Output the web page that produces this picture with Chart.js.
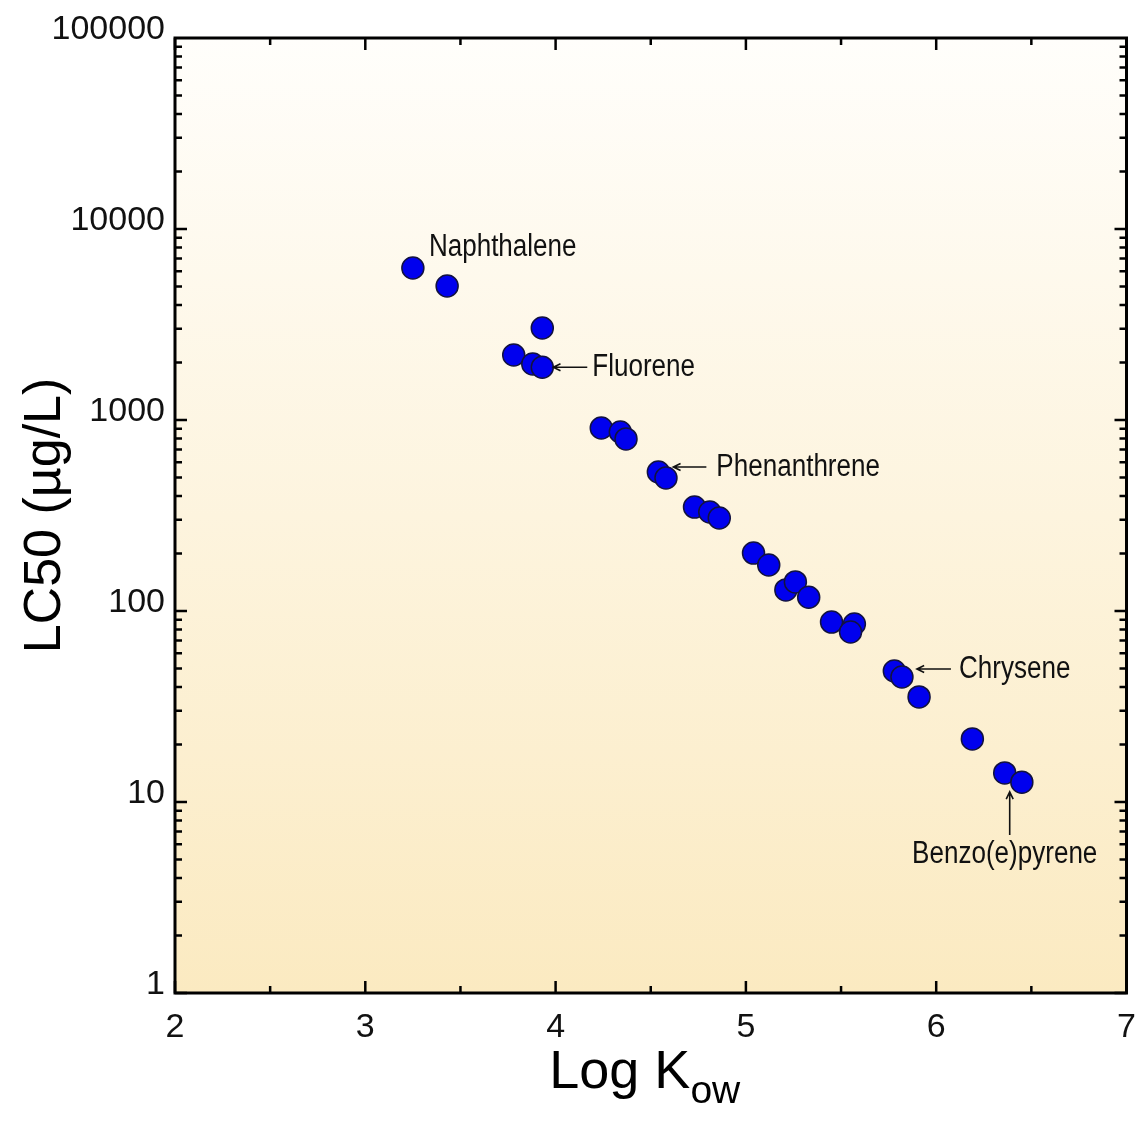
<!DOCTYPE html>
<html>
<head>
<meta charset="utf-8">
<script src="https://cdn.jsdelivr.net/npm/chart.js@4.4.0/dist/chart.umd.min.js"></script>
<style>
  body { margin: 0; background: #fff; }
  canvas { display: block; }
</style>
</head>
<body>
<canvas id="miGrafico" width="1139" height="1131"></canvas>
<script>
// datos
const logKow = [3.25, 3.43, 3.93, 3.78, 3.88, 3.93, 4.24, 4.34, 4.37, 4.54, 4.58, 4.73, 4.81, 4.86,
                5.04, 5.12, 5.21, 5.26, 5.33, 5.45, 5.57, 5.55, 5.78, 5.82, 5.91, 6.19, 6.36, 6.45];
const lc50 = [6250, 5030, 3030, 2190, 1965, 1890, 908, 865, 796, 534, 497, 350, 330, 307,
              201, 174, 129, 142, 118, 87.5, 85.5, 77.6, 48.5, 45.1, 35.5, 21.4, 14.2, 12.7];
const xTicks = [2, 3, 4, 5, 6, 7];
const yTicks = [1, 10, 100, 1000, 10000, 100000];
const etiquetas = ['Naphthalene', 'Fluorene', 'Phenanthrene', 'Chrysene', 'Benzo(e)pyrene'];

const FUENTE = "'Liberation Sans', Arial, Helvetica, sans-serif";
const GRAFICO = document.getElementById("miGrafico");

// fondo degradado
const fondo = {
  id: 'fondo',
  beforeDraw(chart) {
    const {ctx, chartArea: a} = chart;
    ctx.save();
    ctx.fillStyle = '#ffffff';
    ctx.fillRect(0, 0, chart.width, chart.height);
    const g = ctx.createLinearGradient(0, a.top, 0, a.bottom);
    g.addColorStop(0, '#fffefb');
    g.addColorStop(1, '#fbeac1');
    ctx.fillStyle = g;
    ctx.fillRect(a.left, a.top, a.right - a.left, a.bottom - a.top);
    ctx.restore();
  }
};

// marcas hacia dentro en los cuatro lados y marco
const marcas = {
  id: 'marcas',
  afterDatasetsDraw(chart) {
    const {ctx, chartArea: a, scales: {x, y}} = chart;
    ctx.save();
    ctx.strokeStyle = '#000';
    ctx.lineWidth = 2.5;
    ctx.beginPath();
    for (let v = x.min; v <= x.max + 1e-9; v += 0.5) {
      const px = x.getPixelForValue(v);
      const len = Number.isInteger(v) ? 12 : 7;
      ctx.moveTo(px, a.bottom); ctx.lineTo(px, a.bottom - len);
      ctx.moveTo(px, a.top); ctx.lineTo(px, a.top + len);
    }
    for (let d = y.min; d < y.max; d *= 10) {
      for (let m = 1; m <= 9; m++) {
        const py = y.getPixelForValue(d * m);
        const len = m === 1 ? 12 : 7;
        ctx.moveTo(a.left, py); ctx.lineTo(a.left + len, py);
        ctx.moveTo(a.right, py); ctx.lineTo(a.right - len, py);
      }
    }
    ctx.stroke();
    ctx.lineWidth = 3;
    ctx.strokeRect(a.left, a.top, a.right - a.left, a.bottom - a.top);
    ctx.restore();
  }
};

function flecha(ctx, x1, y1, x2, y2) {
  // de (x1,y1) a la punta (x2,y2)
  const ang = Math.atan2(y2 - y1, x2 - x1);
  ctx.beginPath();
  ctx.moveTo(x1, y1); ctx.lineTo(x2, y2);
  ctx.moveTo(x2 - 8 * Math.cos(ang - 0.45), y2 - 8 * Math.sin(ang - 0.45));
  ctx.lineTo(x2, y2);
  ctx.lineTo(x2 - 8 * Math.cos(ang + 0.45), y2 - 8 * Math.sin(ang + 0.45));
  ctx.stroke();
}

function texto(ctx, s, x, y, align) {
  ctx.save();
  ctx.translate(x, y);
  ctx.scale(0.84, 1);
  ctx.textAlign = align;
  ctx.textBaseline = 'middle';
  ctx.fillText(s, 0, 0);
  ctx.restore();
}

// rotulos de compuestos, anclados a un punto del conjunto
const rotulos = {
  id: 'rotulos',
  afterDraw(chart) {
    const {ctx, scales: {x, y}} = chart;
    const p = i => [x.getPixelForValue(logKow[i]), y.getPixelForValue(lc50[i])];
    ctx.save();
    ctx.fillStyle = '#111';
    ctx.strokeStyle = '#111';
    ctx.lineWidth = 1.6;
    ctx.font = '31px ' + FUENTE;

    let [px, py] = p(0);
    texto(ctx, etiquetas[0], px + 16, py - 21, 'left');

    [px, py] = p(5);
    flecha(ctx, px + 45, py, px + 11, py);
    texto(ctx, etiquetas[1], px + 50, py, 'left');

    [px, py] = p(9);
    flecha(ctx, px + 48, py - 5, px + 15, py - 5);
    texto(ctx, etiquetas[2], px + 58, py - 5, 'left');

    [px, py] = p(23);
    flecha(ctx, px + 49, py - 8, px + 15, py - 8);
    texto(ctx, etiquetas[3], px + 57, py - 8, 'left');

    [px, py] = p(26);
    flecha(ctx, px + 5, py + 62, px + 5, py + 19);
    texto(ctx, etiquetas[4], px, py + 82, 'center');

    // titulo del eje x con subindice
    const cx = (chart.chartArea.left + chart.chartArea.right) / 2 - 6;
    ctx.fillStyle = '#000';
    ctx.textBaseline = 'alphabetic';
    ctx.textAlign = 'left';
    ctx.font = '54px ' + FUENTE;
    const w1 = ctx.measureText('Log K').width;
    ctx.font = '39px ' + FUENTE;
    const w2 = ctx.measureText('ow').width;
    const x0 = cx - (w1 + w2) / 2;
    ctx.font = '54px ' + FUENTE;
    ctx.fillText('Log K', x0, 1088);
    ctx.font = '39px ' + FUENTE;
    ctx.fillText('ow', x0 + w1, 1103);
    ctx.restore();
  }
};

let grafica = new Chart(GRAFICO, {
  type: 'scatter',
  data: {
    datasets: [{
      data: logKow.map((v, i) => ({x: v, y: lc50[i]})),
      pointRadius: 11,
      pointHoverRadius: 11,
      backgroundColor: '#0000ee',
      borderColor: '#121240',
      borderWidth: 1.5
    }]
  },
  options: {
    responsive: false,
    animation: false,
    layout: { padding: { top: 38, right: 8, left: 0, bottom: 0 } },
    plugins: {
      legend: { display: false },
      tooltip: { enabled: false }
    },
    scales: {
      x: {
        type: 'linear',
        min: 2,
        max: 7,
        afterBuildTicks: s => { s.ticks = xTicks.map(v => ({value: v})); },
        afterFit: s => { s.height = 138; s.paddingLeft = 0; s.paddingRight = 0; },
        grid: { display: false, drawTicks: false },
        border: { display: false },
        ticks: {
          color: '#111',
          padding: 14,
          maxRotation: 0,
          font: { size: 34, family: FUENTE }
        }
      },
      y: {
        type: 'logarithmic',
        min: 1,
        max: 100000,
        afterBuildTicks: s => { s.ticks = yTicks.map(v => ({value: v})); },
        afterFit: s => { s.width = 175; },
        grid: { display: false, drawTicks: false },
        border: { display: false },
        ticks: {
          color: '#111',
          padding: 10,
          labelOffset: -8,
          callback: v => String(v),
          font: { size: 34, family: FUENTE }
        },
        title: {
          display: true,
          text: 'LC50 (\u00b5g/L)',
          color: '#000',
          padding: { top: 14, bottom: 0 },
          font: { size: 52, family: FUENTE }
        }
      }
    }
  },
  plugins: [fondo, marcas, rotulos]
});
</script>
</body>
</html>
